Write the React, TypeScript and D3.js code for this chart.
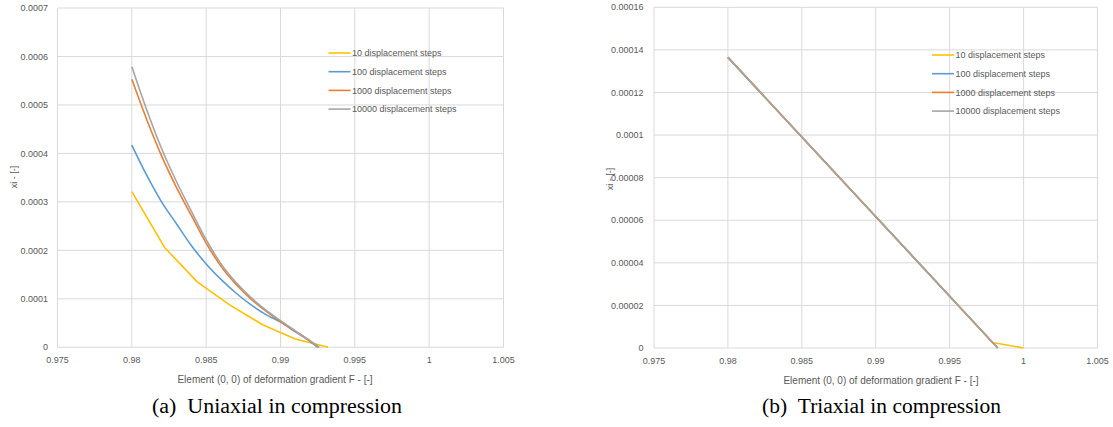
import React from "react";
import * as d3 from "d3";

// ---------- DATA ----------
const seriesNames = [
  "10 displacement steps",
  "100 displacement steps",
  "1000 displacement steps",
  "10000 displacement steps",
];
const seriesColors = ["#FFC000", "#5B9BD5", "#ED7D31", "#A5A5A5"];

const xTicks = [0.975, 0.98, 0.985, 0.99, 0.995, 1, 1.005];
const xTickLabels = ["0.975", "0.98", "0.985", "0.99", "0.995", "1", "1.005"];

const uniYTicks = [0, 0.0001, 0.0002, 0.0003, 0.0004, 0.0005, 0.0006, 0.0007];
const uniYTickLabels = ["0", "0.0001", "0.0002", "0.0003", "0.0004", "0.0005", "0.0006", "0.0007"];

const triYTicks = [0, 0.00002, 0.00004, 0.00006, 0.00008, 0.0001, 0.00012, 0.00014, 0.00016];
const triYTickLabels = ["0", "0.00002", "0.00004", "0.00006", "0.00008", "0.0001", "0.00012", "0.00014", "0.00016"];

// Uniaxial (a)
const uni10X = [0.98, 0.9822, 0.9844, 0.9866, 0.9888, 0.991, 0.9932];
const uni10Y = [0.000321, 0.000206, 0.000135, 0.000087, 0.0000466, 0.000017, 0];
const uni100X = [0.98, 0.981, 0.982, 0.983, 0.984, 0.985, 0.986, 0.987, 0.988, 0.989, 0.99, 0.991, 0.992, 0.9925];
const uni100Y = [0.000417, 0.000355, 0.0003, 0.000255, 0.00021, 0.000172, 0.00014, 0.000112, 0.000088, 0.000068, 0.000052, 0.000032, 0.000012, 0];
const uni1000X = [0.98, 0.981, 0.982, 0.983, 0.984, 0.985, 0.986, 0.987, 0.988, 0.989, 0.99, 0.991, 0.992, 0.9926];
const uni1000Y = [0.000553, 0.00047, 0.000395, 0.00033, 0.000272, 0.000215, 0.000167, 0.00013, 0.0001, 0.000075, 0.000053, 0.000033, 0.000013, 0];
const uni10000X = [0.98, 0.981, 0.982, 0.983, 0.984, 0.985, 0.986, 0.987, 0.988, 0.989, 0.99, 0.991, 0.992, 0.9926];
const uni10000Y = [0.000579, 0.00049, 0.00041, 0.000342, 0.000281, 0.000222, 0.000172, 0.000134, 0.000103, 0.000077, 0.000055, 0.000034, 0.000013, 0];

// Triaxial (b)
const tri10X = [0.98, 0.9979, 1.0];
const tri10Y = [0.0001365, 0.0000026, 0];
const tri100X = [0.98, 0.99825];
const tri100Y = [0.0001365, 0];
const tri1000X = [0.98, 0.99825];
const tri1000Y = [0.0001365, 0];
const tri10000X = [0.98, 0.99825];
const tri10000Y = [0.0001365, 0];

const xTitle = "Element (0, 0) of deformation gradient F - [-]";
const yTitle = "xi - [-]";
const captionA = "(a)\u00A0\u00A0Uniaxial in compression";
const captionB = "(b)\u00A0\u00A0Triaxial in compression";

type Panel = {
  left: number;
  right: number;
  top: number;
  bottom: number;
  yTicks: number[];
  yTickLabels: string[];
  yMax: number;
  series: { x: number[]; y: number[]; curve: any }[];
  yLabelX: number;
  yTitleX: number;
  yTitleY: number;
  xTitleX: number;
  legendX: number;
  legendY: number;
  caption: string;
  captionX: number;
  captionW: number;
};

const FONT = "'Liberation Sans', Arial, sans-serif";
const TXT = "#595959";
const GRID = "#D9D9D9";

function ChartPanel({ p }: { p: Panel }) {
  const x = d3.scaleLinear().domain([0.975, 1.005]).range([p.left, p.right]);
  const y = d3.scaleLinear().domain([0, p.yMax]).range([p.bottom, p.top]);
  return (
    <g>
      {p.yTicks.map((t, i) => (
        <line key={"hy" + i} x1={p.left} x2={p.right} y1={y(t)} y2={y(t)} stroke={GRID} strokeWidth={1} />
      ))}
      {xTicks.map((t, i) => (
        <line key={"vx" + i} x1={x(t)} x2={x(t)} y1={p.top} y2={p.bottom} stroke={GRID} strokeWidth={1} />
      ))}
      {p.yTicks.map((t, i) => (
        <text key={"ly" + i} x={p.yLabelX} y={y(t)} dy="0.35em" textAnchor="end" fontFamily={FONT} fontSize={9} fill={TXT}>
          {p.yTickLabels[i]}
        </text>
      ))}
      {xTicks.map((t, i) => (
        <text key={"lx" + i} x={x(t)} y={p.bottom + 16} textAnchor="middle" fontFamily={FONT} fontSize={9} fill={TXT}>
          {xTickLabels[i]}
        </text>
      ))}
      {p.series.map((s, i) => {
        const pts: [number, number][] = s.x.map((v, j) => [v, s.y[j]]);
        const line = d3
          .line<[number, number]>()
          .x((d) => x(d[0]))
          .y((d) => y(d[1]))
          .curve(s.curve);
        return (
          <path key={"s" + i} d={line(pts) || ""} fill="none" stroke={seriesColors[i]} strokeWidth={1.6} strokeLinejoin="round" />
        );
      })}
      {seriesNames.map((n, i) => (
        <g key={"lg" + i}>
          <line x1={p.legendX} x2={p.legendX + 22} y1={p.legendY + i * 18.7} y2={p.legendY + i * 18.7} stroke={seriesColors[i]} strokeWidth={1.6} />
          <text x={p.legendX + 23.5} y={p.legendY + i * 18.7} dy="0.35em" fontFamily={FONT} fontSize={9} fill={TXT}>
            {n}
          </text>
        </g>
      ))}
      <text x={p.xTitleX} y={p.bottom + 36} textAnchor="middle" fontFamily={FONT} fontSize={10} fill={TXT}>
        {xTitle}
      </text>
      <text
        transform={`translate(${p.yTitleX},${p.yTitleY}) rotate(-90)`}
        textAnchor="middle"
        dy="0.35em"
        fontFamily={FONT}
        fontSize={9}
        fill={TXT}
      >
        {yTitle}
      </text>
      <text
        x={p.captionX - p.captionW / 2}
        y={413}
        textLength={p.captionW}
        lengthAdjust="spacingAndGlyphs"
        fontFamily="'Liberation Serif', 'Times New Roman', serif"
        fontSize={20}
        fill="#000"
      >
        {p.caption}
      </text>
    </g>
  );
}

export default function App() {
  const panelA: Panel = {
    left: 57.5,
    right: 503.5,
    top: 8,
    bottom: 347.3,
    yTicks: uniYTicks,
    yTickLabels: uniYTickLabels,
    yMax: 0.0007,
    series: [
      { x: uni10X, y: uni10Y, curve: d3.curveLinear },
      { x: uni100X, y: uni100Y, curve: d3.curveMonotoneX },
      { x: uni1000X, y: uni1000Y, curve: d3.curveMonotoneX },
      { x: uni10000X, y: uni10000Y, curve: d3.curveMonotoneX },
    ],
    yLabelX: 48,
    yTitleX: 14,
    yTitleY: 177,
    xTitleX: 275,
    legendX: 328.5,
    legendY: 53,
    caption: captionA,
    captionX: 277,
    captionW: 250,
  };
  const panelB: Panel = {
    left: 654,
    right: 1097.5,
    top: 7.3,
    bottom: 348,
    yTicks: triYTicks,
    yTickLabels: triYTickLabels,
    yMax: 0.00016,
    series: [
      { x: tri10X, y: tri10Y, curve: d3.curveLinear },
      { x: tri100X, y: tri100Y, curve: d3.curveLinear },
      { x: tri1000X, y: tri1000Y, curve: d3.curveLinear },
      { x: tri10000X, y: tri10000Y, curve: d3.curveLinear },
    ],
    yLabelX: 643.5,
    yTitleX: 610,
    yTitleY: 179,
    xTitleX: 881,
    legendX: 932,
    legendY: 55,
    caption: captionB,
    captionX: 881.5,
    captionW: 239,
  };
  return (
    <svg width={1113} height={427} style={{ position: "absolute", left: 0, top: 0, background: "#fff" }}>
      <rect x={0} y={0} width={1113} height={427} fill="#fff" />
      <ChartPanel p={panelA} />
      <ChartPanel p={panelB} />
    </svg>
  );
}
